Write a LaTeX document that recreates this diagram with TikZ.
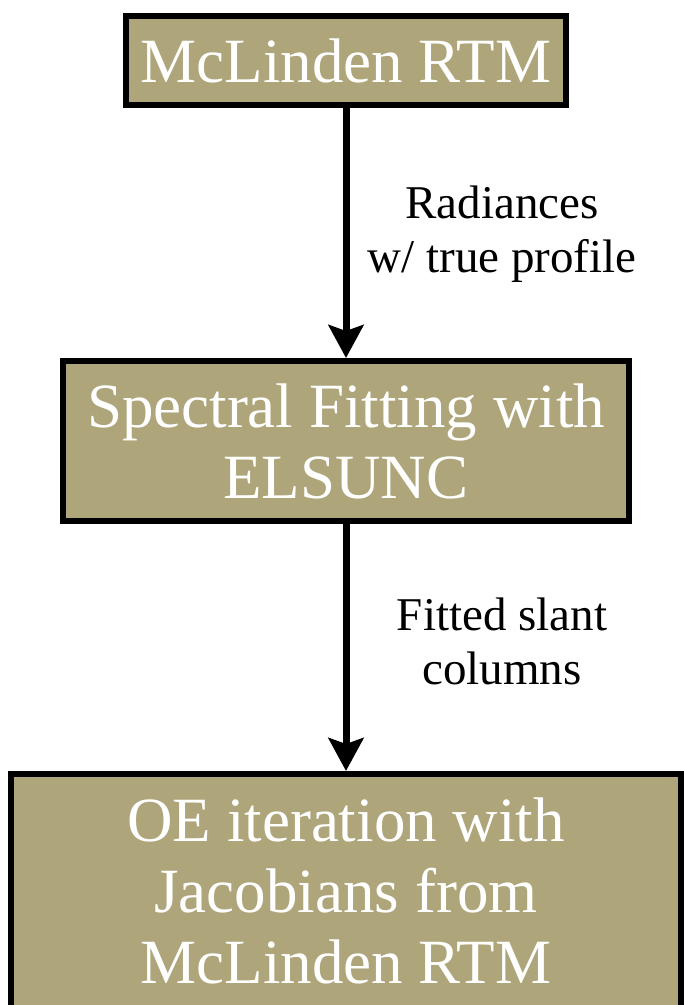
\documentclass[tikz,border=0pt]{standalone}
\usepackage{fontspec}
\setmainfont{Liberation Serif}
\usetikzlibrary{arrows.meta}
\definecolor{boxfill}{RGB}{174,166,122}
\begin{document}
\begin{tikzpicture}[x=1pt,y=1pt,
  flowbox/.style={draw=black, line width=6pt, fill=boxfill, text=white,
    font=\fontsize{63}{71}\selectfont, align=center, inner sep=0pt},
  flowlabel/.style={text=black, font=\fontsize{47}{54}\selectfont, align=center, inner sep=0pt},
  flowarrow/.style={draw=black, line width=7pt,
    -{Stealth[length=33pt,width=35pt,inset=6pt]}}
]
\path[use as bounding box] (0,0) rectangle (684,-1005);
\clip (0,0) rectangle (684,-1005);
\node[flowbox, minimum width=440pt, minimum height=89pt] (b1) at (346,-60.5) {McLinden RTM};
\node[flowbox, minimum width=566pt, minimum height=160pt] (b2) at (346,-441) {Spectral Fitting with\\ELSUNC};
\node[flowbox, minimum width=670pt, minimum height=234pt] (b3) at (346,-891) {OE iteration with\\Jacobians from\\McLinden RTM};
\draw[flowarrow] (b1.south) -- (b2.north);
\draw[flowarrow] (b2.south) -- (b3.north);
\node[flowlabel] (l1) at (502,-234) {Radiances\\w/ true profile};
\node[flowlabel] (l2) at (502,-641) {Fitted slant\\columns};
\end{tikzpicture}
\end{document}
